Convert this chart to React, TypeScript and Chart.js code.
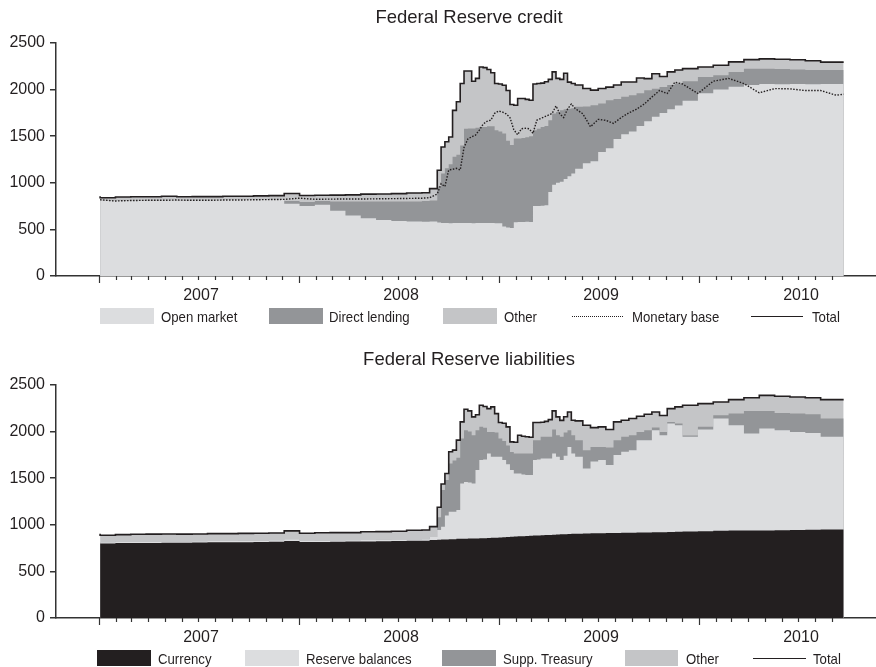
import React, { useEffect, useRef } from "react";
import { Chart, registerables } from "chart.js";

Chart.register(...registerables);

// ---------- data (weekly H.4.1 style, billions of dollars) ----------
// week number counted from Wednesday 3 January 2007
const weekNo = [
  0, 4, 8, 12, 16, 20, 24, 28, 32, 36, 40, 44, 48,
  52, 56, 60, 64, 68, 72, 76, 80, 84, 86,
  88, 89, 90, 91, 92, 93, 94, 95, 96, 97,
  98, 99, 100, 101, 102, 103, 104, 105, 106, 107,
  108, 109, 110, 111, 112, 113, 114, 115, 116, 117,
  118, 119, 120, 121, 122, 123, 124,
  126, 128, 130, 132, 134, 136, 138, 140, 142, 144, 146, 148, 150, 152,
  156, 160, 164, 168, 172, 176, 180, 184, 188, 192,
  194,
];

// Federal Reserve credit
const openMarket = [
  820, 805, 808, 810, 810, 812, 810, 812, 812, 815, 815, 818, 820,
  775, 750, 765, 700, 650, 620, 600, 590, 585, 583,
  585, 575, 568, 568, 567, 568, 568, 569, 568, 568,
  567, 568, 568, 569, 568, 568, 567, 566, 530, 520,
  515, 578, 580, 580, 582, 580, 750, 752, 755, 760,
  900, 980, 1000, 1010, 1040, 1070, 1100,
  1150, 1209, 1230, 1330, 1370, 1470, 1520, 1550, 1610, 1660, 1708, 1750, 1790, 1830,
  1880, 1960, 2000, 2030, 2050, 2060, 2058, 2060, 2057, 2060,
  2060,
];
const directLending = [
  0, 0, 0, 0, 0, 0, 0, 0, 0, 0, 0, 0, 0,
  30, 45, 40, 100, 150, 180, 200, 210, 215, 222,
  225, 385, 532, 587, 633, 712, 732, 831, 1012, 1015,
  1016, 1022, 1032, 1031, 1040, 1040, 998, 984, 1000, 930,
  890, 898, 896, 900, 908, 920, 815, 828, 845, 850,
  772, 764, 760, 769, 750, 725, 700,
  665, 611, 602, 520, 517, 430, 402, 390, 350, 334, 302, 279, 260, 235,
  210, 176, 154, 160, 175, 165, 162, 155, 153, 150,
  150,
];
const otherCredit = [
  35, 35, 40, 40, 40, 44, 40, 40, 40, 40, 41, 42, 42,
  80, 68, 61, 68, 70, 78, 80, 84, 90, 88,
  127, 174, 284, 285, 291, 497, 570, 665, 620, 617,
  507, 530, 643, 636, 607, 572, 500, 510, 517, 540,
  435, 356, 428, 424, 405, 386, 495, 485, 470, 475,
  438, 446, 360, 331, 385, 285, 265,
  235, 192, 162, 162, 140, 150, 160, 142, 165, 124, 160, 111, 140, 145,
  135, 107, 107, 107, 97, 105, 105, 105, 100, 85,
  85,
];
const monetaryBase = [
  818, 805, 810, 812, 812, 815, 812, 812, 815, 815, 818, 820, 822,
  835, 823, 825, 826, 826, 828, 830, 832, 835, 840,
  880, 990, 960, 1137, 1145, 1155, 1137, 1380, 1470, 1494,
  1512, 1565, 1630, 1660, 1672, 1745, 1770, 1760, 1740, 1700,
  1570, 1515, 1580, 1585, 1580, 1530, 1672, 1690, 1708, 1726,
  1744, 1825, 1740, 1700, 1790, 1845, 1797,
  1740, 1601, 1680, 1670, 1637, 1700, 1750, 1790, 1845, 1920, 1990, 1958, 2080, 2060,
  1958, 2090, 2120, 2065, 1965, 2011, 2008, 1990, 1990, 1940,
  1950,
];

// Federal Reserve liabilities
const currency = [
  812, 800, 805, 806, 806, 808, 808, 810, 812, 812, 814, 815, 818,
  826, 815, 815, 818, 820, 822, 824, 826, 828, 830,
  838, 840, 842, 843, 845, 846, 849, 850, 851, 853,
  853, 854, 856, 857, 859, 861, 862, 865, 867, 870,
  872, 874, 876, 878, 881, 882, 884, 886, 888, 890,
  891, 894, 896, 898, 899, 901, 903,
  905, 906, 908, 909, 911, 913, 915, 916, 917, 918, 920, 921, 923, 926,
  927, 930, 935, 938, 938, 940, 942, 945, 948, 950,
  950,
];
const reserveBalances = [
  15, 14, 15, 14, 15, 14, 13, 14, 15, 14, 15, 14, 15,
  18, 16, 15, 14, 15, 14, 15, 16, 15, 16,
  32, 105, 138, 257, 295, 294, 311, 594, 609, 602,
  591, 733, 838, 843, 906, 869, 868, 865, 827, 780,
  715, 677, 675, 662, 653, 652, 810, 814, 824, 822,
  821, 871, 834, 796, 841, 935, 862,
  825, 699, 772, 785, 730, 835, 868, 885, 991, 990, 1095, 1040, 1163, 1142,
  1017, 1092, 1205, 1130, 1041, 1093, 1073, 1052, 1038, 994,
  994,
];
const suppTreasury = [
  0, 0, 0, 0, 0, 0, 0, 0, 0, 0, 0, 0, 0,
  0, 0, 0, 0, 0, 0, 0, 0, 0, 0,
  0, 136, 393, 380, 518, 550, 560, 482, 555, 545,
  517, 428, 357, 340, 232, 267, 260, 196, 206, 200,
  193, 214, 214, 225, 231, 231, 214, 208, 232, 232,
  232, 257, 230, 250, 250, 179, 195,
  178, 196, 156, 142, 189, 160, 161, 160, 89, 107, 28, 36, 18, 18,
  15, 30, 35, 125, 243, 189, 185, 196, 200, 196,
  196,
];
const otherLiabilities = [
  78, 74, 75, 78, 79, 80, 79, 78, 78, 79, 79, 81, 79,
  91, 79, 85, 84, 81, 89, 88, 88, 99, 99,
  110, 107, 64, 71, 125, 111, 188, 178, 225, 222,
  197, 165, 231, 230, 250, 268, 203, 171, 190, 201,
  110, 120, 196, 185, 179, 175, 189, 189, 156, 166,
  185, 200, 198, 176, 170, 196, 162,
  207, 267, 207, 215, 192, 196, 178, 179, 168, 171, 168, 175, 143, 179,
  323, 248, 143, 150, 142, 167, 179, 178, 178, 203,
  203,
];

const yearLabels = [2007, 2008, 2009, 2010];
const Y_MAX = 2500;
const Y_STEP = 500;

// ---------- styles ----------
const INK = "#231f20";
const AXIS = "#333333";
const C_LIGHT = "#dcdddf";
const C_DARK = "#939598";
const C_MID = "#c4c5c7";
const C_BLACK = "#231f20";
const FONT = '"Liberation Sans", Arial, Helvetica, sans-serif';

// ---------- helpers ----------
const FIRST_WEEK = Date.UTC(2007, 0, 3);
function toDecimalYear(ms: number) {
  const d = new Date(ms);
  const y = d.getUTCFullYear();
  const s = Date.UTC(y, 0, 1);
  const e = Date.UTC(y + 1, 0, 1);
  return y + (ms - s) / (e - s);
}
const xs = weekNo.map((w) => toDecimalYear(FIRST_WEEK + w * 7 * 86400000));
const pts = (vals: number[]) => vals.map((v, i) => ({ x: xs[i], y: v }));
const sumOf = (...arrs: number[][]) =>
  arrs[0].map((_, i) => arrs.reduce((s, a) => s + a[i], 0));

const X_MIN = 2006.785;
const X_MAX = 2010.885;

const monthTicks = {
  id: "monthTicks",
  afterDraw(chart: any) {
    const { ctx, chartArea, scales } = chart;
    const xs2 = scales.x;
    ctx.save();
    ctx.strokeStyle = AXIS;
    ctx.lineWidth = 1.2;
    for (let m = 0; m <= 44; m++) {
      const t = toDecimalYear(Date.UTC(2007, m, 1));
      const px = Math.round(xs2.getPixelForValue(t)) + 0.5;
      const len = m % 12 === 0 ? 7 : 4;
      ctx.beginPath();
      ctx.moveTo(px, chartArea.bottom);
      ctx.lineTo(px, chartArea.bottom + len);
      ctx.stroke();
    }
    ctx.restore();
  },
};

function area(label: string, vals: number[], color: string) {
  return {
    label,
    data: pts(vals),
    fill: "origin",
    backgroundColor: color,
    borderColor: color,
    borderWidth: 0,
    pointRadius: 0,
    stepped: "after",
    yAxisID: "y",
    order: 1,
  };
}
function line(label: string, vals: number[], dashed: boolean, stepped: boolean) {
  return {
    label,
    data: pts(vals),
    fill: false,
    borderColor: INK,
    borderWidth: dashed ? 1.4 : 1.6,
    borderDash: dashed ? [1.5, 1.5] : [],
    pointRadius: 0,
    stepped: stepped ? "after" : false,
    yAxisID: "y2",
    order: 0,
  };
}

function makeOptions() {
  const tickFont = { family: FONT, size: 16 };
  return {
    animation: false,
    responsive: false,
    events: [],
    layout: { padding: { top: 43, left: 0, right: 0, bottom: 0 } },
    plugins: {
      legend: { display: false },
      title: { display: false },
      tooltip: { enabled: false },
    },
    elements: { line: { tension: 0 } },
    scales: {
      x: {
        type: "linear",
        min: X_MIN,
        max: X_MAX,
        grid: { display: false, drawTicks: false },
        border: { display: true, color: AXIS, width: 1.5 },
        ticks: {
          font: tickFont,
          color: INK,
          padding: 10,
          autoSkip: false,
          maxRotation: 0,
          minRotation: 0,
          callback: (v: any) => String(Math.floor(Number(v))),
        },
        afterBuildTicks: (s: any) => {
          s.ticks = yearLabels.map((y) => ({ value: y + 0.51 }));
        },
        afterFit: (s: any) => {
          s.height = 36;
        },
      },
      y: {
        stacked: true,
        min: 0,
        max: Y_MAX,
        grid: {
          drawOnChartArea: false,
          drawTicks: true,
          tickLength: 6,
          color: AXIS,
          tickColor: AXIS,
          lineWidth: 1.5,
        },
        border: { display: true, color: AXIS, width: 1.5 },
        ticks: {
          stepSize: Y_STEP,
          font: tickFont,
          color: INK,
          padding: 5,
          callback: (v: any) => String(v),
        },
        afterFit: (s: any) => {
          s.width = 56;
        },
      },
      y2: { display: false, stacked: false, min: 0, max: Y_MAX },
    },
  };
}

type LegendItem = {
  kind: "box" | "dots" | "line";
  label: string;
  color?: string;
  x: number;
  w: number;
  tx: number;
};

const creditLegend: LegendItem[] = [
  { kind: "box", label: "Open market", color: C_LIGHT, x: 100, w: 54, tx: 161 },
  { kind: "box", label: "Direct lending", color: C_DARK, x: 269, w: 54, tx: 329 },
  { kind: "box", label: "Other", color: C_MID, x: 443, w: 54, tx: 504 },
  { kind: "dots", label: "Monetary base", x: 572, w: 51, tx: 632 },
  { kind: "line", label: "Total", x: 751, w: 52, tx: 812 },
];
const liabLegend: LegendItem[] = [
  { kind: "box", label: "Currency", color: C_BLACK, x: 97, w: 54, tx: 158 },
  { kind: "box", label: "Reserve balances", color: C_LIGHT, x: 245, w: 54, tx: 306 },
  { kind: "box", label: "Supp. Treasury", color: C_DARK, x: 442, w: 54, tx: 503 },
  { kind: "box", label: "Other", color: C_MID, x: 625, w: 53, tx: 686 },
  { kind: "line", label: "Total", x: 753, w: 53, tx: 813 },
];

function buildCredit() {
  return [
    area("Open market", openMarket, C_LIGHT),
    area("Direct lending", directLending, C_DARK),
    area("Other", otherCredit, C_MID),
    line("Monetary base", monetaryBase, true, false),
    line("Total", sumOf(openMarket, directLending, otherCredit), false, true),
  ];
}
function buildLiab() {
  return [
    area("Currency", currency, C_BLACK),
    area("Reserve balances", reserveBalances, C_LIGHT),
    area("Supp. Treasury", suppTreasury, C_DARK),
    area("Other", otherLiabilities, C_MID),
    line("Total", sumOf(currency, reserveBalances, suppTreasury, otherLiabilities), false, true),
  ];
}

function Panel(props: { top: number; title: string; build: () => any[]; legend: LegendItem[] }) {
  const ref = useRef<HTMLCanvasElement>(null);
  useEffect(() => {
    const chart = new Chart(ref.current as HTMLCanvasElement, {
      type: "line",
      data: { datasets: props.build() as any },
      options: makeOptions() as any,
      plugins: [monthTicks as any],
    });
    return () => chart.destroy();
  }, []);
  const LEG_TOP = 308;
  return (
    <div style={{ position: "absolute", left: 0, top: props.top, width: 876, height: 330 }}>
      <canvas
        ref={ref}
        width={876}
        height={312}
        style={{ position: "absolute", left: 0, top: 0 }}
      />
      <div
        style={{
          position: "absolute",
          left: 319,
          width: 300,
          top: 8.3,
          textAlign: "center",
          fontSize: 18.5,
          lineHeight: "18.5px",
          color: INK,
          whiteSpace: "nowrap",
        }}
      >
        {props.title}
      </div>
      {props.legend.map((it) => (
        <React.Fragment key={it.label + it.x}>
          {it.kind === "box" ? (
            <div
              style={{
                position: "absolute",
                left: it.x,
                top: LEG_TOP,
                width: it.w,
                height: 16,
                background: it.color,
              }}
            />
          ) : (
            <div
              style={{
                position: "absolute",
                left: it.x,
                top: LEG_TOP + 7.5,
                width: it.w,
                height: 0,
                borderTop: it.kind === "dots" ? `1.5px dotted ${INK}` : `1.5px solid ${INK}`,
              }}
            />
          )}
          <span
            style={{
              position: "absolute",
              left: it.tx,
              top: LEG_TOP + 1.3,
              fontSize: 15,
              lineHeight: "15px",
              color: INK,
              whiteSpace: "nowrap",
              transform: "scaleX(0.88)",
              transformOrigin: "left center",
            }}
          >
            {it.label}
          </span>
        </React.Fragment>
      ))}
    </div>
  );
}

export default function App() {
  return (
    <div
      style={{
        position: "absolute",
        left: 0,
        top: 0,
        width: 876,
        height: 667,
        background: "#ffffff",
        fontFamily: FONT,
        overflow: "hidden",
      }}
    >
      <Panel top={0} title="Federal Reserve credit" build={buildCredit} legend={creditLegend} />
      <Panel top={342} title="Federal Reserve liabilities" build={buildLiab} legend={liabLegend} />
    </div>
  );
}
